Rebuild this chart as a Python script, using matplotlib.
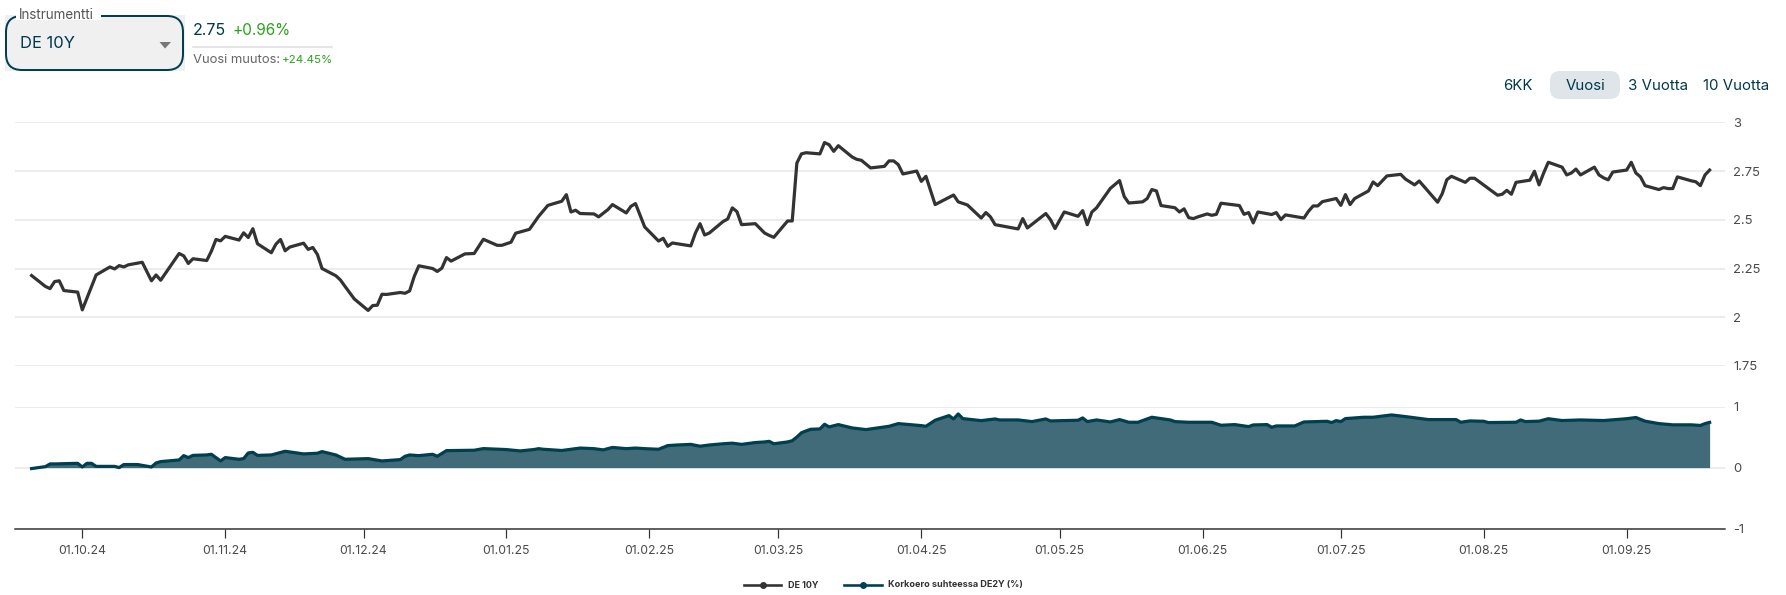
import numpy as np
from matplotlib import pyplot as plt
from matplotlib.patches import FancyBboxPatch, Polygon, Rectangle

plt.rcParams['font.family'] = ['Inter', 'DejaVu Sans']

W, H = 1786, 595

# paivat laskettu 01.10.24 alkaen
de10y_days = [-11, -8, -7, -6, -5, -4, -1, 0, 3, 6, 7, 8, 9, 10, 13, 15, 16, 17, 21, 22, 23, 24, 27, 28, 29, 30, 31, 34, 35, 36, 37, 38,
              41, 42, 43, 44, 45, 48, 49, 50, 51, 52, 55, 56, 57, 59, 62, 63, 64, 65, 66, 69, 70, 71, 72, 73, 76, 77, 78, 79, 80,
              83, 85, 87, 90, 91, 93, 94, 97, 99, 101, 104, 105, 106, 107, 108, 111, 112, 114, 115, 118, 119, 120, 122, 123, 125,
              126, 127, 128, 132, 133, 134, 135, 136, 139, 140, 141, 142, 143, 146, 148, 149, 150, 153, 154, 155, 156, 157, 160,
              161, 162, 163, 164, 167, 168, 169, 171, 174, 175, 176, 177, 178, 181, 182, 183, 185, 189, 190, 192, 195, 196, 197,
              198, 203, 204, 205, 209, 210, 211, 213, 216, 217, 218, 219, 220, 223, 225, 226, 227, 230, 231, 232, 233, 234, 237,
              238, 239, 240, 241, 242, 244, 245, 246, 247, 251, 252, 253, 254, 255, 258, 259, 260, 261, 265, 266, 267, 268, 269,
              272, 273, 274, 275, 276, 279, 280, 281, 283, 286, 287, 289, 290, 294, 295, 296, 297, 300, 301, 302, 307, 308, 309,
              310, 311, 314, 315, 316, 317, 318, 321, 322, 323, 324, 325, 328, 329, 330, 331, 332, 335, 336, 337, 338, 339, 342,
              343, 344, 345, 346, 349, 350, 351, 352, 353]
de10y_values = [2.214, 2.158, 2.147, 2.183, 2.187, 2.137, 2.129, 2.038, 2.217, 2.258, 2.248, 2.265, 2.258, 2.269, 2.282, 2.187, 2.217, 2.19,
                2.327, 2.315, 2.276, 2.30, 2.291, 2.339, 2.399, 2.392, 2.415, 2.396, 2.433, 2.409, 2.454, 2.377,
                2.331, 2.375, 2.399, 2.341, 2.36, 2.38, 2.348, 2.358, 2.322, 2.25, 2.213, 2.191, 2.158, 2.094, 2.035, 2.06, 2.062,
                2.118, 2.117, 2.127, 2.123, 2.135, 2.209, 2.264, 2.25, 2.235, 2.252, 2.306, 2.288,
                2.325, 2.327, 2.40, 2.369, 2.369, 2.385, 2.431, 2.451, 2.518, 2.574, 2.595, 2.629, 2.54, 2.549, 2.532, 2.53, 2.515,
                2.552, 2.578, 2.535, 2.569, 2.583, 2.463, 2.439, 2.391,
                2.405, 2.364, 2.381, 2.366, 2.432, 2.48, 2.422, 2.432, 2.491, 2.504, 2.561, 2.542, 2.475, 2.48, 2.432, 2.42, 2.41,
                2.494, 2.494, 2.791, 2.838, 2.844, 2.838,
                2.896, 2.885, 2.851, 2.88, 2.822, 2.81, 2.805, 2.766, 2.774, 2.802, 2.802, 2.783, 2.735, 2.75, 2.697, 2.723, 2.578,
                2.627, 2.592, 2.576, 2.509, 2.537, 2.515,
                2.475, 2.453, 2.506, 2.458, 2.532, 2.501, 2.455, 2.54, 2.518, 2.547, 2.475, 2.54, 2.561, 2.661, 2.701, 2.62, 2.586,
                2.592, 2.609, 2.655, 2.648, 2.573, 2.562,
                2.54, 2.556, 2.511, 2.506, 2.515, 2.53, 2.523, 2.528, 2.585, 2.573, 2.528, 2.537, 2.484, 2.54, 2.527, 2.537, 2.501,
                2.525, 2.509, 2.544, 2.571, 2.571, 2.593,
                2.609, 2.574, 2.629, 2.578, 2.609, 2.648, 2.694, 2.675, 2.725, 2.733, 2.709, 2.679, 2.699, 2.59, 2.634, 2.706, 2.723,
                2.692, 2.713, 2.713, 2.626, 2.631, 2.651,
                2.631, 2.692, 2.703, 2.749, 2.679, 2.74, 2.795, 2.77, 2.73, 2.74, 2.76, 2.73, 2.77, 2.73, 2.715, 2.705, 2.745, 2.755,
                2.795, 2.74, 2.72, 2.675, 2.655,
                2.665, 2.66, 2.66, 2.72, 2.70, 2.695, 2.675, 2.73, 2.755]

spread_days = [-11, -8, -7, -6, -1, 0, 1, 2, 3, 7, 8, 9, 12, 15, 16, 17, 21, 22, 23, 24, 27, 28, 30, 31, 34, 35, 36, 37, 38, 41, 44, 48, 51,
               52, 55, 57, 62, 65, 69, 70, 71, 73, 76, 77, 79, 85, 87, 92, 95, 98, 99, 100, 104, 106, 108, 111, 113, 115, 118, 120,
               122, 125, 127, 129, 132, 134, 136, 139, 141, 143, 146, 148, 149, 150, 153, 154, 155, 156, 157,
               158, 160, 161, 162, 164, 167, 170, 175, 177, 182, 183, 185, 188, 189, 190, 191, 195, 198, 199, 203, 206, 209, 210,
               216, 217, 218, 220, 223, 225, 227, 229, 232, 236, 237, 240, 245, 247, 250, 253, 254, 257, 258, 259, 263, 265, 270,
               271, 272, 273, 274, 278, 280, 284, 287, 292, 298, 299, 301, 304, 305, 311, 312, 313, 316, 318, 321, 325, 330, 335,
               337, 339, 342, 345, 349, 351, 352, 353]
spread_values = [-0.016, 0.016, 0.06, 0.06, 0.07, 0.01, 0.07, 0.07, 0.02, 0.02, 0.0, 0.05, 0.05, 0.01, 0.076, 0.098, 0.125, 0.196, 0.164, 0.20,
                 0.207, 0.218, 0.109, 0.164, 0.136, 0.147, 0.24, 0.25, 0.20, 0.207, 0.267, 0.224, 0.235,
                 0.262, 0.207, 0.136, 0.147, 0.109, 0.131, 0.185, 0.207, 0.196, 0.218, 0.185, 0.278, 0.284, 0.311, 0.295, 0.273, 0.296,
                 0.31, 0.30, 0.28, 0.30, 0.32, 0.31, 0.29, 0.33, 0.31, 0.32,
                 0.31, 0.30, 0.36, 0.37, 0.38, 0.35, 0.37, 0.39, 0.40, 0.38, 0.41, 0.42, 0.43, 0.39, 0.42, 0.44, 0.50, 0.57, 0.60,
                 0.627, 0.633, 0.709, 0.666, 0.704, 0.649, 0.622, 0.676, 0.72, 0.687, 0.676, 0.775, 0.851, 0.796, 0.878, 0.802, 0.769,
                 0.796, 0.78, 0.78, 0.753, 0.796, 0.764,
                 0.775, 0.813, 0.753, 0.78, 0.747, 0.786, 0.742, 0.742, 0.824, 0.78, 0.753, 0.742, 0.742, 0.693, 0.704, 0.671, 0.698,
                 0.704, 0.66, 0.682, 0.682, 0.747, 0.758,
                 0.737, 0.769, 0.753, 0.802, 0.824, 0.824, 0.862, 0.835, 0.786, 0.786, 0.742, 0.764, 0.758, 0.737, 0.742, 0.78, 0.753,
                 0.76, 0.80, 0.77, 0.78, 0.77, 0.80,
                 0.82, 0.76, 0.72, 0.70, 0.70, 0.69, 0.72, 0.74]

tick_days = [0, 31, 61, 92, 123, 151, 182, 212, 243, 273, 304, 335]
tick_labels = ['01.10.24', '01.11.24', '01.12.24', '01.01.25', '01.02.25', '01.03.25',
               '01.04.25', '01.05.25', '01.06.25', '01.07.25', '01.08.25', '01.09.25']
upper_ticks = [3, 2.75, 2.5, 2.25, 2, 1.75]
upper_labels = ['3', '2.75', '2.5', '2.25', '2', '1.75']
lower_ticks = [1, 0, -1]
lower_labels = ['1', '0', '-1']

LINE = '#333333'
TEAL = '#003f50'
FILL = '#426b7a'
GRID = '#e6e6e6'
NAVY = '#00394d'
GREEN = '#2aa31a'
FS = 0.72  # px -> pt kun dpi=100


def pane(top, bottom, left=15, right=1725):
    return fig.add_axes([left / W, 1 - bottom / H, (right - left) / W, (bottom - top) / H])


fig = plt.figure(figsize=(W / 100, H / 100), dpi=100)

ax1 = pane(122.3, 366)
ax2 = pane(406.5, 528.7)
xlim = ((15 - 82.3) / 4.61, (1725 - 82.3) / 4.61)

ax1.plot(de10y_days, de10y_values, color=LINE, lw=3.2 * FS, zorder=3)
ax1.set_ylim(1.75, 3)

ax2.fill_between(spread_days, spread_values, 0, color=FILL, lw=0, zorder=2)
ax2.plot(spread_days, spread_values, color=TEAL, lw=3.2 * FS, zorder=3)
ax2.set_ylim(-1, 1)

ax1.set_yticks(upper_ticks, upper_labels)
ax2.set_yticks(lower_ticks, lower_labels)
for ax in (ax1, ax2):
    ax.set_xlim(xlim)
    ax.patch.set_alpha(0)
    for s in ax.spines.values():
        s.set_visible(False)
    ax.grid(True, axis='y', color=GRID, lw=1.5 * FS, zorder=0)
    ax.yaxis.tick_right()
    ax.tick_params(axis='y', length=0, pad=8 * FS, labelsize=13 * FS, labelcolor='#4a4a4a')
ax1.set_xticks([])

ax2.spines['bottom'].set_visible(True)
ax2.spines['bottom'].set_color(LINE)
ax2.spines['bottom'].set_linewidth(1.5 * FS)
ax2.set_xticks(tick_days, tick_labels)
ax2.tick_params(axis='x', length=9 * FS, width=1.2 * FS, color=LINE, pad=7 * FS,
                labelsize=12.3 * FS, labelcolor='#4a4a4a')

# otsikkorivi ja selite pikseleina
top = fig.add_axes([0, 0, 1, 1], zorder=5)
top.set_xlim(0, W)
top.set_ylim(H, 0)
top.axis('off')

top.add_patch(Rectangle((5, 15), 180, 55.5, fc='#f0f0f0', ec='none'))
top.add_patch(FancyBboxPatch((6, 16), 177, 54, boxstyle='round,pad=0,rounding_size=16',
                             fc='none', ec=TEAL, lw=2 * FS))
top.add_patch(Rectangle((16, 9), 85, 11, fc='white', ec='none', zorder=3))
top.text(19, 15, 'Instrumentti', fontsize=13.4 * FS, color='#555555', va='center', zorder=4)
top.text(19.5, 43.5, 'DE 10Y', fontsize=16.5 * FS, color=NAVY, va='center')
top.add_patch(Polygon([(159.5, 42), (171, 42), (165, 48.5)], fc='#777777', ec='none'))

top.text(193, 30.5, '2.75', fontsize=16 * FS, color=NAVY, va='center')
top.text(232.5, 30.5, '+0.96%', fontsize=15.3 * FS, color=GREEN, va='center')
top.plot([193, 332], [46.5, 46.5], color='#dddddd', lw=1.5 * FS)
top.text(193, 60, 'Vuosi muutos:', fontsize=13 * FS, color='#666666', va='center')
top.text(282, 60, '+24.45%', fontsize=11.5 * FS, color=GREEN, va='center')

top.add_patch(FancyBboxPatch((1550, 71), 70, 28, boxstyle='round,pad=0,rounding_size=10',
                             fc='#dfe5e8', ec='none'))
for cx, lab in zip([1518, 1585, 1657.5, 1736.5], ['6KK', 'Vuosi', '3 Vuotta', '10 Vuotta']):
    top.text(cx, 86, lab, fontsize=15 * FS, color=NAVY, ha='center', va='center')

top.plot([744, 781], [585, 585], color=LINE, lw=2.6 * FS)
top.plot([762.5], [585], color=LINE, marker='o', ms=5.5 * FS)
top.text(788, 585, 'DE 10Y', fontsize=9 * FS, color=LINE, fontweight='bold', va='center')
top.plot([844, 882], [585, 585], color=TEAL, lw=2.6 * FS)
top.plot([863], [585], color=TEAL, marker='o', ms=5.5 * FS)
top.text(888, 585, 'Korkoero suhteessa DE2Y (%)', fontsize=9.1 * FS, color=LINE, fontweight='bold', va='center')

fig.savefig('out.png', dpi=100)
